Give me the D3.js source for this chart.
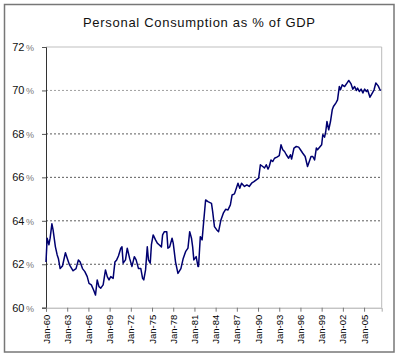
<!DOCTYPE html>
<html><head><meta charset="utf-8">
<script src="https://cdn.jsdelivr.net/npm/d3@7"></script>
<style>body{margin:0;background:#fff}svg{display:block}</style>
</head><body>
<svg id="c" width="400" height="356"></svg>
<script>
const title = "Personal Consumption as % of GDP";
const dates = ["1960-01","1960-03","1960-06","1960-08","1960-11","1961-01","1961-05","1961-08","1961-10","1962-01","1962-05","1962-10","1963-02","1963-05","1963-11","1964-04","1964-08","1964-11","1965-03","1965-07","1965-11","1966-02","1966-06","1966-10","1967-01","1967-04","1967-07","1967-10","1968-02","1968-06","1968-09","1968-12","1969-03","1969-07","1969-10","1970-01","1970-04","1970-08","1970-10","1970-12","1971-04","1971-07","1971-11","1972-03","1972-07","1972-10","1973-02","1973-06","1973-09","1973-11","1974-02","1974-05","1974-07","1974-10","1974-12","1975-03","1975-07","1975-10","1976-01","1976-05","1976-07","1976-10","1977-02","1977-04","1977-07","1977-11","1978-01","1978-05","1978-09","1979-02","1979-06","1979-10","1980-02","1980-05","1980-08","1980-10","1980-12","1981-04","1981-07","1981-08","1981-11","1982-02","1982-05","1982-08","1982-12","1983-06","1983-08","1983-11","1984-03","1984-06","1984-10","1985-02","1985-06","1985-10","1986-02","1986-05","1986-09","1987-03","1987-06","1987-09","1988-02","1988-06","1988-10","1989-02","1989-06","1989-10","1990-02","1990-05","1990-09","1990-12","1991-03","1991-06","1991-08","1991-11","1992-02","1992-05","1992-09","1993-01","1993-04","1993-07","1993-10","1994-01","1994-05","1994-08","1994-10","1995-02","1995-06","1995-10","1996-01","1996-05","1996-09","1997-01","1997-03","1997-07","1997-10","1998-01","1998-04","1998-06","1999-01","1999-03","1999-06","1999-08","1999-10","2000-01","2000-04","2000-07","2000-09","2001-01","2001-04","2001-07","2001-09","2001-12","2002-04","2002-08","2002-11","2003-03","2003-06","2003-09","2003-12","2004-02","2004-05","2004-08","2004-11","2005-02","2005-05","2005-07","2005-11","2006-03","2006-06","2006-09","2007-01","2007-04","2007-06"];
const values = [62.1,63.2,62.9,63.2,63.86,63.58,62.8,62.43,62.27,61.8,61.92,62.53,62.2,61.97,61.7,61.8,62.2,62.1,61.8,61.66,61.43,61.12,61.05,60.8,60.58,61.28,60.97,60.9,61.05,61.74,61.43,61.28,61.43,61.35,62.1,62.2,62.38,62.74,62.8,62.05,62.2,62.74,62.27,61.9,62.35,62.2,61.8,61.8,61.35,61.28,61.74,62.8,62.2,62.05,62.9,63.35,63.12,62.97,62.9,62.8,63.35,63.5,63.5,62.74,62.8,63.2,62.97,62.1,61.58,61.8,62.27,62.58,62.74,63.5,63.2,62.8,62.2,62.35,61.9,61.9,63.27,63.12,64.04,64.96,64.88,64.8,64.42,63.73,63.58,63.5,64.04,64.35,64.53,64.5,64.73,65.19,65.24,65.73,65.5,65.73,65.58,65.65,65.58,65.73,65.8,65.88,65.96,66.58,66.5,66.43,66.58,66.38,66.5,66.8,66.73,66.88,66.93,67.0,67.5,67.27,67.19,67.04,66.88,67.04,66.84,67.35,67.42,67.39,67.27,67.11,66.96,66.5,66.65,66.96,66.96,66.8,67.35,67.27,67.5,67.96,67.85,68.11,68.57,68.19,68.57,69.11,69.26,69.42,69.57,70.18,70.03,70.26,70.18,70.34,70.46,70.3,70.06,70.18,70.0,70.11,69.95,70.06,69.88,70.06,69.95,70.03,69.69,69.88,70.03,70.34,70.21,70.03,70.0];
const yTicks = [60,62,64,66,68,70,72];
const xTickYears = [1960,1963,1966,1969,1972,1975,1978,1981,1984,1987,1990,1993,1996,1999,2002,2005];

const svg = d3.select("#c");
const parse = d3.timeParse("%Y-%m");
const data = dates.map((d,i)=>({d:parse(d), v:values[i]}));
const L=46, R=381.7, T=47, B=307.7;
const x = d3.scaleTime().domain([parse("1960-01"), parse("2007-07")]).range([L,R]);
const y = d3.scaleLinear().domain([60,72]).range([B,T]);

// outer frame
svg.append("rect").attr("x",4.5).attr("y",4.5).attr("width",389.5).attr("height",347.5)
  .attr("fill","#fff").attr("stroke","#777").attr("stroke-width",1.5);

svg.append("text").attr("x",199).attr("y",27).attr("text-anchor","middle")
  .attr("font-family","Liberation Sans, Arial, sans-serif").attr("font-size",13)
  .attr("textLength",232).attr("lengthAdjust","spacing").attr("fill","#111").text(title);

// gridlines
yTicks.filter(t=>t>60 && t<72).forEach(t=>{
  svg.append("line").attr("x1",L).attr("x2",R).attr("y1",y(t)).attr("y2",y(t))
    .attr("stroke", t===70 ? "#888" : "#333").attr("stroke-width",0.8).attr("stroke-dasharray","2,2");
});
// plot border top/right
svg.append("line").attr("x1",L).attr("x2",R).attr("y1",T).attr("y2",T).attr("stroke","#c0c0c0").attr("stroke-width",1.2);
svg.append("line").attr("x1",R).attr("x2",R).attr("y1",T).attr("y2",B).attr("stroke","#bbb").attr("stroke-width",1);

// y axis
const yAxis = d3.axisLeft(y).tickValues(yTicks).tickSize(4).tickFormat(()=>"");
const ya = svg.append("g").attr("transform",`translate(${L},0)`).call(yAxis);
ya.select(".domain").attr("stroke","#333");
ya.selectAll(".tick line").attr("stroke","#555");
yTicks.forEach(t=>{
  const tx = svg.append("text").attr("x",34).attr("y",y(t)+4).attr("text-anchor","end")
    .attr("font-family","Liberation Sans, Arial, sans-serif").attr("font-size",11).attr("fill","#111");
  tx.append("tspan").text(t);
  tx.append("tspan").attr("dx",1.5).attr("font-size",9).attr("fill","#777").text("%");
});

// x axis
const xAxis = d3.axisBottom(x).tickValues(xTickYears.map(yr=>new Date(yr,0,1))).tickSize(4)
  .tickFormat(d3.timeFormat("Jan-%y"));
const xa = svg.append("g").attr("transform",`translate(0,${B})`).call(xAxis);
xa.select(".domain").attr("stroke","#aaa");
xa.selectAll(".tick line").attr("stroke","#777");
xa.selectAll(".tick text").attr("font-family","Liberation Sans, Arial, sans-serif").attr("font-size",9.5)
  .attr("fill","#000").attr("text-anchor","end").attr("transform","rotate(-90)")
  .attr("x",-7).attr("y",0).attr("dy","0.32em");

// line
svg.append("path").datum(data).attr("fill","none").attr("stroke","#000070").attr("stroke-width",1.5)
  .attr("stroke-linejoin","round")
  .attr("d", d3.line().x(d=>x(d.d)).y(d=>y(d.v)));
</script>
</body></html>
